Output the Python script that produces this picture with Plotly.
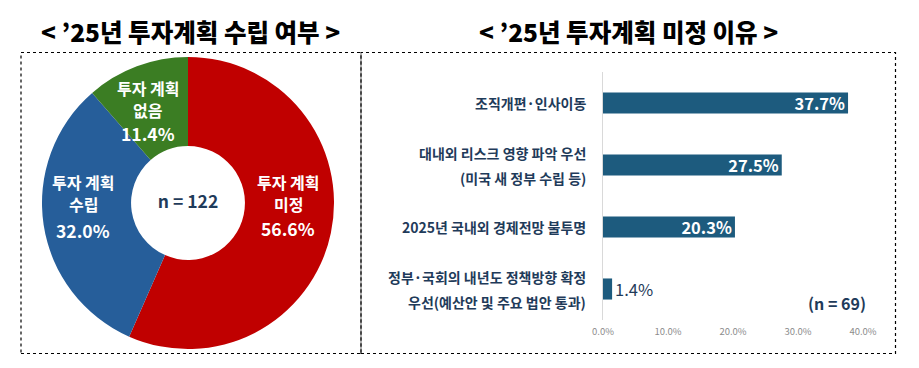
import plotly.graph_objects as go

W, H = 919, 368

# ---- data ----
pie_labels = ["투자 계획<br>미정", "투자 계획<br>수립", "투자 계획<br>없음"]
pie_values = [56.6, 32.0, 11.4]
pie_colors = ["#C00000", "#265E9A", "#3B7D23"]
pie_n = "n = 122"

bar_categories = ["조직개편·인사이동",
                  "대내외 리스크 영향 파악 우선<br>(미국 새 정부 수립 등)",
                  "2025년 국내외 경제전망 불투명",
                  "정부·국회의 내년도 정책방향 확정<br>우선(예산안 및 주요 법안 통과)"]
bar_values = [37.7, 27.5, 20.3, 1.4]
bar_n = "(n = 69)"
x_ticks = [0, 10, 20, 30, 40]

title_left = "< ’25년 투자계획 수립 여부 >"
title_right = "< ’25년 투자계획 미정 이유 >"

FONT = "Noto Sans CJK KR"
NAVY = "#1F3B5A"
OFF = 8  # page body margin offset

def px(x):
    return (x - OFF) / W

def py(y):
    return 1 - (y - OFF) / H

fig = go.Figure()

# Pie (donut)
fig.add_trace(go.Pie(
    labels=pie_labels, values=pie_values, sort=False, direction="clockwise",
    rotation=0, hole=0.39, marker=dict(colors=pie_colors, line=dict(width=0)),
    textinfo="none", hoverinfo="label+percent", showlegend=False,
    title=dict(text=pie_n, position="middle center",
               font=dict(family=FONT, size=17.5, color=NAVY, weight="bold")),
    domain=dict(x=[px(41), px(335)], y=[py(349), py(57)]),
))

# Bars
ycats = [f"c{i}" for i in range(len(bar_categories))]
fig.add_trace(go.Bar(
    x=bar_values, y=ycats, orientation="h",
    marker=dict(color="#1D5B7E", line=dict(width=0)),
    text=[f"{v:.1f}%" for v in bar_values],
    textposition=["inside", "inside", "inside", "outside"],
    insidetextanchor="end", constraintext="none",
    textfont=dict(family=FONT, size=16),
    insidetextfont=dict(color="white", family=FONT, size=16.5, weight="bold"),
    outsidetextfont=dict(color=NAVY, family=FONT, size=16.5),
    cliponaxis=False, showlegend=False, width=0.34,
    xaxis="x", yaxis="y",
))

annotations = []
# Pie labels: (center x, first line y, value y)
pie_label_pos = [(288, 182, 228), (83, 182, 230), (148, 88, 133)]
for lab, val, (cx, ly, vy) in zip(pie_labels, pie_values, pie_label_pos):
    for i, ln in enumerate(lab.split("<br>")):
        annotations.append(dict(x=px(cx), y=py(ly + 22 * i), xref="paper", yref="paper",
                                text=ln, showarrow=False, xanchor="center", yanchor="middle",
                                font=dict(family=FONT, size=16, color="white", weight="bold")))
    annotations.append(dict(x=px(cx), y=py(vy), xref="paper", yref="paper",
                            text=f"{val:.1f}%", showarrow=False, xanchor="center", yanchor="middle",
                            font=dict(family=FONT, size=17.5, color="white", weight="bold")))

# Category labels
for cat, yc in zip(bar_categories, ycats):
    lines = cat.split("<br>")
    n = len(lines)
    for i, ln in enumerate(lines):
        shift = (n - 1) * 12.5 - i * 25
        annotations.append(dict(x=px(588), y=yc, xref="paper", yref="y", text=ln,
                                showarrow=False, xanchor="right", yanchor="middle", yshift=shift,
                                font=dict(family=FONT, size=14, color=NAVY, weight="bold")))
annotations.append(dict(x=px(868), y=py(303), xref="paper", yref="paper", text=bar_n,
                        showarrow=False, xanchor="right", yanchor="middle",
                        font=dict(family=FONT, size=16, color=NAVY, weight="bold")))

# Titles
annotations.append(dict(x=px(190), y=py(31), xref="paper", yref="paper", text=title_left,
                        showarrow=False, xanchor="center", yanchor="middle",
                        font=dict(family=FONT, size=24.5, color="black", weight=900)))
annotations.append(dict(x=px(628), y=py(31), xref="paper", yref="paper", text=title_right,
                        showarrow=False, xanchor="center", yanchor="middle",
                        font=dict(family=FONT, size=24.5, color="black", weight=900)))

shapes = [
    dict(type="rect", xref="paper", yref="paper", x0=px(21), x1=px(361), y0=py(353.5), y1=py(52.5),
         line=dict(color="black", width=1.2, dash="dot")),
    dict(type="rect", xref="paper", yref="paper", x0=px(361), x1=px(895.5), y0=py(353.5), y1=py(52.5),
         line=dict(color="black", width=1.2, dash="dot")),
]

fig.update_layout(
    width=W, height=H, margin=dict(l=0, r=0, t=0, b=0, autoexpand=False),
    paper_bgcolor="white", plot_bgcolor="white",
    font=dict(family=FONT),
    xaxis=dict(domain=[px(603), px(863)], range=[0, 40], tickvals=x_ticks,
               ticktext=[f"{t:.1f}%" for t in x_ticks], showgrid=False, zeroline=False,
               showline=False, ticks="", tickfont=dict(family=FONT, size=9.5, color="#8C8C8C"),
               ticklabelstandoff=4, fixedrange=True, automargin=False),
    yaxis=dict(domain=[py(320), py(72)], autorange="reversed", showticklabels=False,
               showgrid=False, zeroline=False, showline=True, linecolor="#D9D9D9", linewidth=1,
               ticks="", fixedrange=True, categoryorder="array", categoryarray=ycats,
               automargin=False),
    annotations=annotations, shapes=shapes,
)

fig.write_html("out.html")
